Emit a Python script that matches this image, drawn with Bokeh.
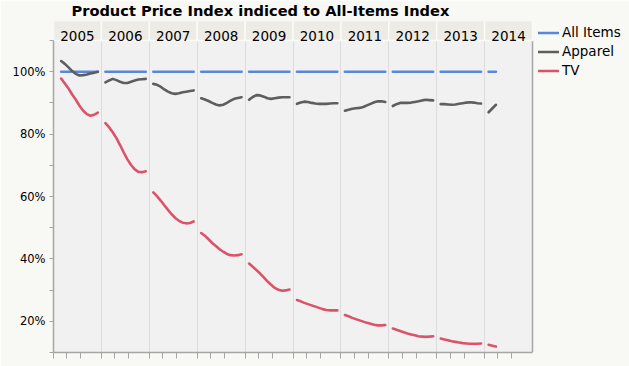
from bokeh.plotting import figure
from bokeh.models import (FixedTicker, NumeralTickFormatter, Legend, LegendItem,
                          ColumnDataSource, Range1d)
from bokeh.embed import file_html
from bokeh.resources import INLINE
from bokeh.core.properties import value

# ---------------- data ----------------
years = ["2005", "2006", "2007", "2008", "2009", "2010", "2011", "2012", "2013", "2014"]
first_month = [2, 1, 1, 1, 1, 1, 1, 1, 1, 1]

all_items = [
    [1.0, 1.0, 1.0, 1.0, 1.0, 1.0, 1.0, 1.0, 1.0, 1.0, 1.0],
    [1.0, 1.0, 1.0, 1.0, 1.0, 1.0, 1.0, 1.0, 1.0, 1.0, 1.0, 1.0],
    [1.0, 1.0, 1.0, 1.0, 1.0, 1.0, 1.0, 1.0, 1.0, 1.0, 1.0, 1.0],
    [1.0, 1.0, 1.0, 1.0, 1.0, 1.0, 1.0, 1.0, 1.0, 1.0, 1.0, 1.0],
    [1.0, 1.0, 1.0, 1.0, 1.0, 1.0, 1.0, 1.0, 1.0, 1.0, 1.0, 1.0],
    [1.0, 1.0, 1.0, 1.0, 1.0, 1.0, 1.0, 1.0, 1.0, 1.0, 1.0, 1.0],
    [1.0, 1.0, 1.0, 1.0, 1.0, 1.0, 1.0, 1.0, 1.0, 1.0, 1.0, 1.0],
    [1.0, 1.0, 1.0, 1.0, 1.0, 1.0, 1.0, 1.0, 1.0, 1.0, 1.0, 1.0],
    [1.0, 1.0, 1.0, 1.0, 1.0, 1.0, 1.0, 1.0, 1.0, 1.0, 1.0, 1.0],
    [1.0, 1.0, 1.0],
]

apparel = [
    [1.034, 1.025, 1.014, 1.002, 0.993, 0.988, 0.989, 0.991, 0.994, 0.997, 1.000],
    [0.966, 0.972, 0.977, 0.973, 0.968, 0.964, 0.964, 0.968, 0.972, 0.975, 0.976, 0.977],
    [0.961, 0.958, 0.952, 0.943, 0.936, 0.931, 0.929, 0.931, 0.934, 0.936, 0.938, 0.940],
    [0.915, 0.911, 0.906, 0.900, 0.895, 0.892, 0.894, 0.900, 0.907, 0.913, 0.916, 0.918],
    [0.910, 0.919, 0.925, 0.924, 0.920, 0.915, 0.913, 0.915, 0.917, 0.918, 0.918, 0.918],
    [0.897, 0.901, 0.904, 0.903, 0.900, 0.898, 0.897, 0.897, 0.897, 0.898, 0.899, 0.899],
    [0.875, 0.878, 0.881, 0.883, 0.884, 0.887, 0.892, 0.897, 0.902, 0.905, 0.905, 0.903],
    [0.890, 0.896, 0.900, 0.900, 0.900, 0.901, 0.903, 0.905, 0.908, 0.910, 0.909, 0.908],
    [0.896, 0.896, 0.895, 0.894, 0.895, 0.897, 0.899, 0.901, 0.902, 0.901, 0.899, 0.898],
    [0.870, 0.882, 0.894],
]

tv = [
    [0.978, 0.962, 0.946, 0.927, 0.910, 0.891, 0.875, 0.864, 0.859, 0.862, 0.869],
    [0.835, 0.822, 0.806, 0.787, 0.765, 0.741, 0.719, 0.701, 0.687, 0.679, 0.678, 0.681],
    [0.613, 0.601, 0.587, 0.572, 0.557, 0.543, 0.531, 0.522, 0.516, 0.514, 0.515, 0.520],
    [0.483, 0.474, 0.463, 0.451, 0.441, 0.431, 0.423, 0.416, 0.412, 0.411, 0.412, 0.415],
    [0.385, 0.375, 0.364, 0.353, 0.341, 0.328, 0.317, 0.307, 0.301, 0.298, 0.299, 0.302],
    [0.268, 0.264, 0.259, 0.255, 0.251, 0.247, 0.243, 0.239, 0.236, 0.235, 0.235, 0.235],
    [0.220, 0.216, 0.211, 0.207, 0.203, 0.199, 0.195, 0.192, 0.189, 0.187, 0.187, 0.188],
    [0.177, 0.173, 0.169, 0.165, 0.161, 0.158, 0.155, 0.152, 0.151, 0.150, 0.151, 0.152],
    [0.145, 0.142, 0.139, 0.136, 0.134, 0.132, 0.130, 0.129, 0.128, 0.128, 0.128, 0.129],
    [0.125, 0.122, 0.119],
]

series_names = ["All Items", "Apparel", "TV"]
series_colors = ["#5a87dc", "#5e5e5e", "#dc5369"]
y_ticks = [0.2, 0.4, 0.6, 0.8, 1.0]
y_minor = [0.1, 0.3, 0.5, 0.7, 0.9, 1.1]
title_text = "Product Price Index indiced to All-Items Index"

# ---------------- layout helpers ----------------
Y0, Y1 = 0.1, 1.1
PX_PER_UNIT_Y = 312.0
PX_PER_PANEL = 47.9
HEADER = 20 / PX_PER_UNIT_Y
FRAME_W, FRAME_H = 576, 332
NP = len(years)


def month_x(i, m):
    # position of month m inside the facet panel of year index i
    return i + 0.0835 + (m - 1) * 0.0766


def panel_lines(vals):
    xs, ys = [], []
    for i, v in enumerate(vals):
        ms = range(first_month[i], first_month[i] + len(v))
        xs.append([month_x(i, m) for m in ms])
        ys.append(list(v))
    return xs, ys


p = figure(width=629, height=366, output_backend="svg", toolbar_location=None,
           x_range=Range1d(0, FRAME_W / PX_PER_PANEL), y_range=Range1d(Y0, Y1 + HEADER),
           min_border_left=53, min_border_right=0, min_border_top=20, min_border_bottom=14,
           background_fill_color="#f8f8f4", border_fill_color="#f8f8f4",
           outline_line_color=None, title=title_text)

p.title.text_font = "DejaVu Sans"
p.title.text_font_style = "bold"
p.title.text_font_size = "14.6px"
p.title.text_color = "black"
p.title.align = "left"
p.title.offset = 18
p.title.standoff = 0
p.title.vertical_align = "top"

# plot-area background (panels)
p.quad(left=[0], right=[NP], bottom=[Y0], top=[Y1], fill_color="#f1f1f1", line_color=None,
       level="image")

# axes
ax_col = "#a6a6a6"
p.yaxis.ticker = FixedTicker(ticks=y_ticks, minor_ticks=y_minor)
p.yaxis.formatter = NumeralTickFormatter(format="0%")
p.yaxis.bounds = (Y0, Y1)
p.yaxis.major_label_text_font = "DejaVu Sans"
p.yaxis.major_label_text_font_size = "11.5px"
p.yaxis.major_label_text_color = "black"
p.yaxis.major_label_standoff = 4
for ax in (p.xaxis[0], p.yaxis[0]):
    ax.axis_line_color = ax_col
    ax.axis_line_width = 1.5
    ax.major_tick_line_color = ax_col
    ax.minor_tick_line_color = ax_col
    ax.major_tick_in = 0
    ax.minor_tick_in = 0
p.yaxis.major_tick_out = 4
p.yaxis.minor_tick_out = 4

# bottom axis: unlabeled ticks only (drawn as minor ticks)
p.xaxis.ticker = FixedTicker(ticks=[],
                             minor_ticks=[i + f for i in range(NP) for f in (0.0, 0.279, 0.571)])
p.xaxis.bounds = (0, NP)
p.xaxis.major_tick_out = 0
p.xaxis.minor_tick_out = 6
p.xaxis.major_label_standoff = 0

p.ygrid.visible = False
p.xgrid.ticker = FixedTicker(ticks=list(range(1, NP)))
p.xgrid.grid_line_color = "#dcdcdc"
p.xgrid.grid_line_width = 1

# right border of the plot area
p.segment(x0=[NP], y0=[Y0], x1=[NP], y1=[Y1], line_color=ax_col, line_width=1.5)

# header strip
hsrc = ColumnDataSource(dict(
    left=list(range(NP)), right=[i + 1 for i in range(NP)],
    xc=[i + 0.5 for i in range(NP)], yr=years))
p.quad(left="left", right="right", bottom=Y1, top=Y1 + HEADER, source=hsrc,
       fill_color="#ecebe5", line_color="#fafaf7", line_width=1.5)
p.text(x="xc", y=Y1 + 4.3 / PX_PER_UNIT_Y, text="yr", source=hsrc,
       text_font=value("DejaVu Sans"), text_font_size="13.5px", text_color="black",
       text_align="center", text_baseline="alphabetic")

# series
items = []
for name, col, vals in zip(series_names, series_colors, [all_items, apparel, tv]):
    xs, ys = panel_lines(vals)
    r = p.multi_line(xs=xs, ys=ys, line_color=col, line_width=2.6, line_cap="round",
                     line_join="round")
    items.append(LegendItem(label=name, renderers=[r]))

legend = Legend(items=items, location=(485, FRAME_H - 2.5 - 57), margin=0, padding=0,
                spacing=0, label_height=19, glyph_height=19, glyph_width=21, label_standoff=3,
                label_text_font="DejaVu Sans", label_text_font_size="13.5px",
                label_text_color="black", background_fill_alpha=0, border_line_alpha=0)
p.add_layout(legend)

open("out.html", "w").write(file_html(p, INLINE))
